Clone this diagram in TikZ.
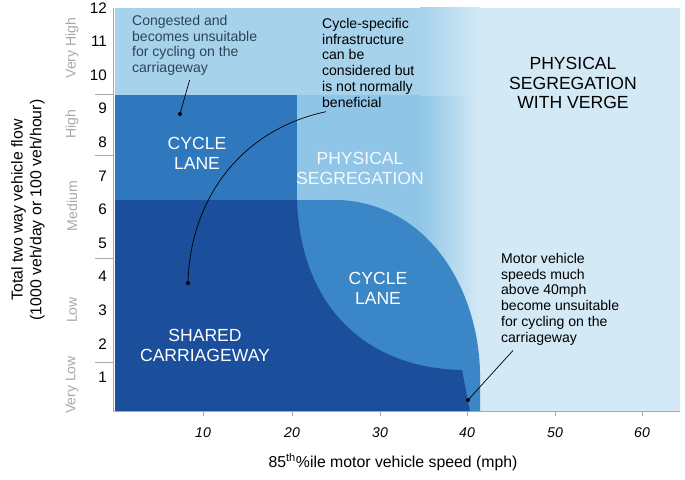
\documentclass[tikz,border=0pt]{standalone}
\usepackage{fontspec}
\setmainfont{Liberation Sans}
\usetikzlibrary{positioning,calc}
\definecolor{verge}{HTML}{D3E9F5}
\definecolor{segr}{HTML}{8FC6E7}
\definecolor{toplight}{HTML}{A6D2EC}
\definecolor{lanemid}{HTML}{3A86C6}
\definecolor{lanetop}{HTML}{2F78BD}
\definecolor{shared}{HTML}{1B4E9B}
\definecolor{annot}{HTML}{2E4457}
\definecolor{axisgray}{HTML}{A8A8A8}
\begin{document}
\begin{tikzpicture}[x=0.03cm,y=-0.03cm,
  zone/.style={text=white,align=center,font=\fontsize{15}{17}\selectfont},
  note/.style={align=left,anchor=north west,font=\fontsize{12}{13.5}\selectfont},
  level/.style={rotate=90,text=axisgray,font=\fontsize{12}{13}\selectfont},
  ylab/.style={anchor=east,font=\fontsize{13}{14}\selectfont},
  xlab/.style={font=\itshape\fontsize{12}{13}\selectfont},
  leader/.style={line width=0.6pt}]
\useasboundingbox (0,0) rectangle (685,479);
% Regions
\fill[verge] (115,8) rectangle (680,411);
\fill[segr] (115,8) rectangle (420,411);
\fill[toplight] (115,8) rectangle (420,95);
\shade[left color=segr,right color=verge] (420,95) rectangle (480,411);
\shade[left color=toplight,right color=verge] (420,8) rectangle (480,95);
\fill[lanetop] (115,95) rectangle (297,200);
\fill[lanemid] (297,200) -- (340,200) .. controls (430,205) and (478,290) .. (480,372) -- (480,411) -- (297,411) -- cycle;
\fill[shared] (115,200) -- (297,200) .. controls (300,300) and (360,368) .. (462,370) -- (470,411) -- (115,411) -- cycle;
% Axes
\draw[axisgray,line width=0.8pt] (113,8) -- (113,411) -- (680,411);
\foreach \v in {1,...,12}
  \node[ylab] (y\v) at (111,{411-33.6*\v}) {\v};
\foreach \t in {94,155,258,362}
  \draw[axisgray] (95,\t) -- (113,\t);
\foreach \v/\p in {10/203,20/292,30/380,40/467,50/555,60/642}{
  \draw[axisgray] (\p,411) -- (\p,416);
  \node[xlab] (x\v) at (\p,433) {\v};}
\node[level] (lvh) at (72,48) {Very High};
\node[level] (lh) at (72,124) {High};
\node[level] (lm) at (72,206) {Medium};
\node[level] (ll) at (72,310) {Low};
\node[level] (lvl) at (72,385) {Very Low};
\node[rotate=90,align=center,font=\fontsize{13.5}{16}\selectfont] (ytitle) at (28,210) {Total two way vehicle flow\\(1000 veh/day or 100 veh/hour)};
\node[font=\fontsize{13.5}{15}\selectfont] (xtitle) at (393,462) {85\textsuperscript{th}\%ile motor vehicle speed (mph)};
% Zone labels
\node[zone] (lane1) at (197,153) {CYCLE\\LANE};
\node[zone,text=white!90!segr] (seg) at (360,168) {PHYSICAL\\SEGREGATION};
\node[zone] (lane2) at (378,288) {CYCLE\\LANE};
\node[zone] (shr) at (205,345) {SHARED\\CARRIAGEWAY};
\node[align=center,font=\fontsize{15}{17}\selectfont] (verge) at (573,83) {PHYSICAL\\SEGREGATION\\WITH VERGE};
% Notes
\node[note,text=annot] (cong) at (128,11) {Congested and\\becomes unsuitable\\for cycling on the\\carriageway};
\node[note] (cyc) at (318,14) {Cycle-specific\\infrastructure\\can be\\considered but\\is not normally\\beneficial};
\node[note] (mot) at (497,249) {Motor vehicle\\speeds much\\above 40mph\\become unsuitable\\for cycling on the\\carriageway};
\coordinate (d1) at (180,114);
\coordinate (d2) at (188,283);
\coordinate (d3) at (468,400);
\draw[leader] (cong.south) ++(-5,0) -- (d1);
\draw[leader] (cyc.south west) ++(8,0) .. controls (240,130) and (190,200) .. (d2);
\draw[leader] (mot.south west) ++(16,1) -- (d3);
\foreach \d in {d1,d2,d3} \fill (\d) circle (2);
\end{tikzpicture}
\end{document}
